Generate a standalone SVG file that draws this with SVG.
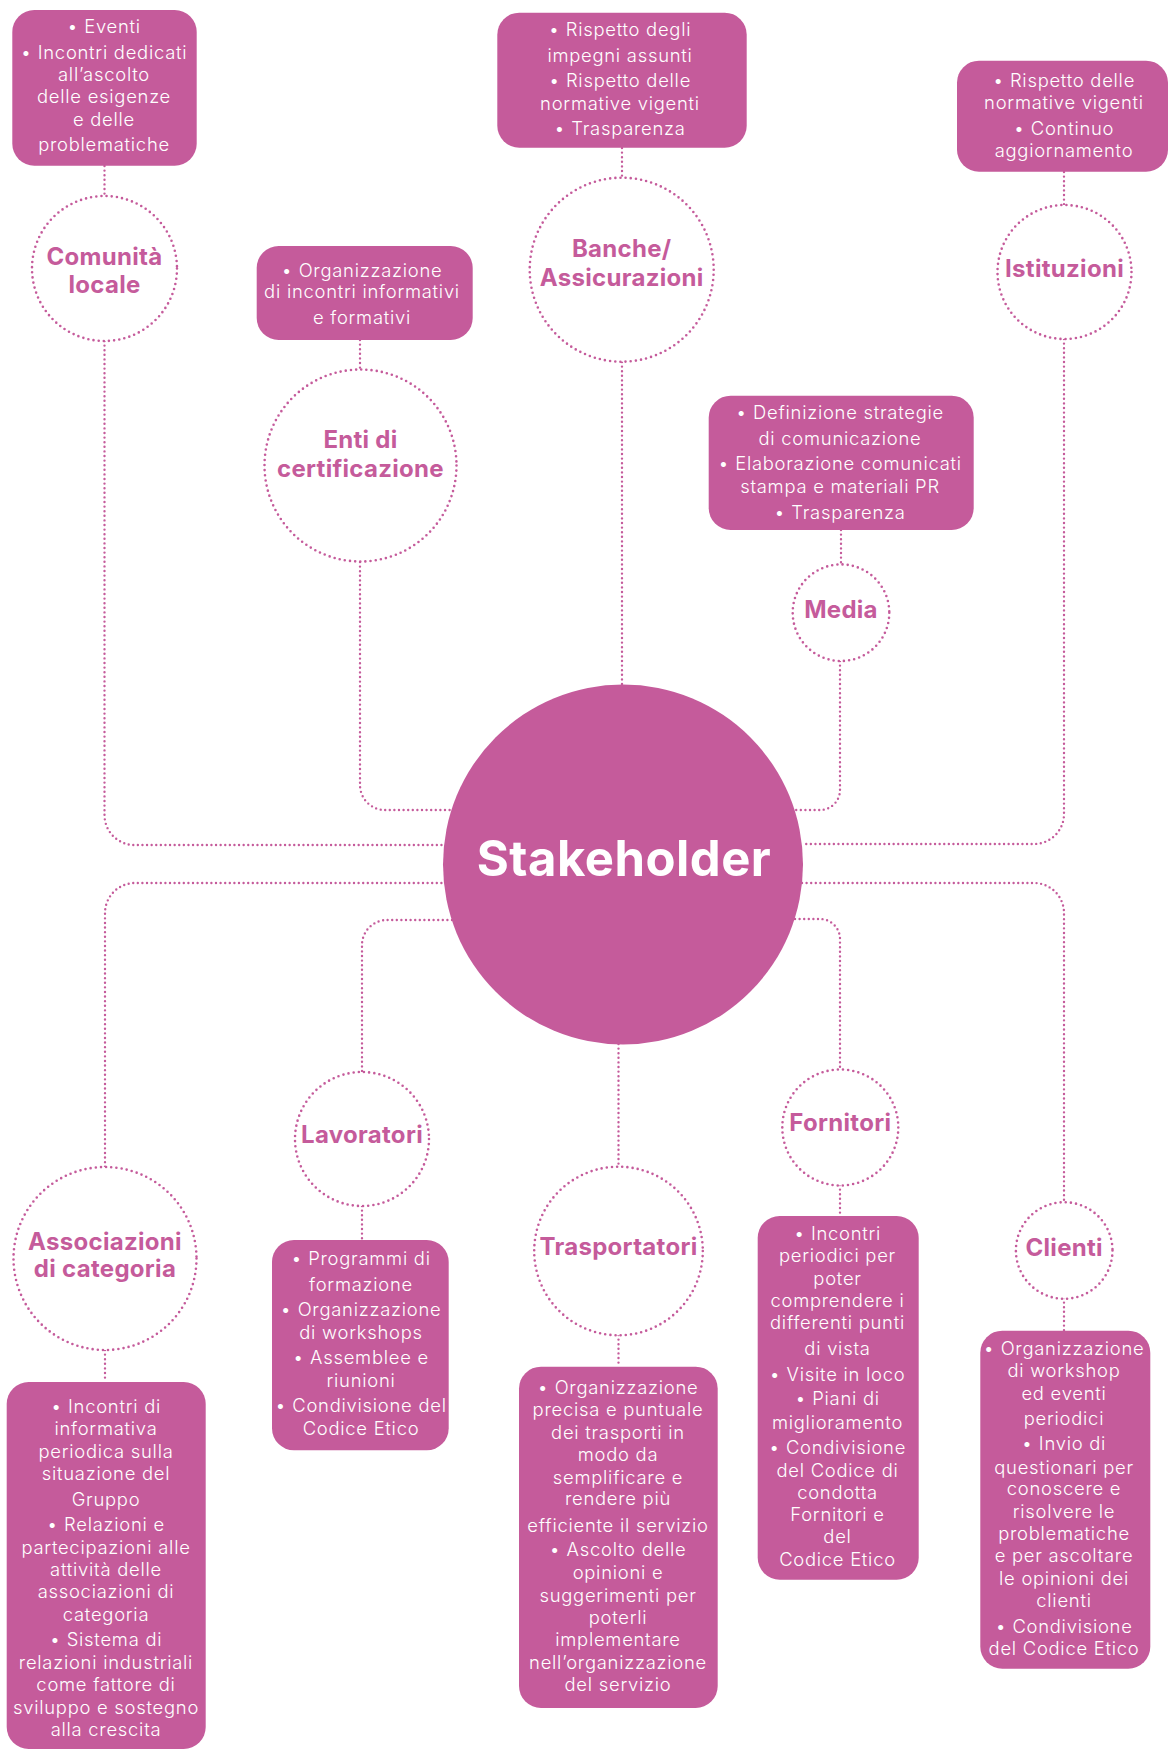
<svg xmlns="http://www.w3.org/2000/svg" width="1169" height="1750" viewBox="0 0 1169 1750">
<style>
.box{fill:#C55B9B}
.bt{font-family:Inter,'Open Sans','DejaVu Sans',sans-serif;font-size:18.4px;font-weight:300;fill:#fff;text-anchor:middle;letter-spacing:0.75px}
.node{fill:#fff;stroke:#C55B9B;stroke-width:2.6;stroke-dasharray:0 5.2;stroke-linecap:round}
.lbl{font-family:Inter,'Open Sans','DejaVu Sans',sans-serif;font-size:24px;font-weight:700;fill:#C55B9B;text-anchor:middle;letter-spacing:0.3px}
.conn{fill:none;stroke:#C55B9B;stroke-width:2.4;stroke-dasharray:0 4.6;stroke-linecap:round}
.hub{fill:#C55B9B}
.hubt{font-family:Inter,'Open Sans','DejaVu Sans',sans-serif;font-size:49px;font-weight:700;fill:#fff;text-anchor:middle;letter-spacing:0.5px}
</style>
<rect width="1169" height="1750" fill="#fff"/>
<g id="connectors">
<path class="conn" d="M104.5 166 V196"/>
<path class="conn" d="M104.5 341 V815 A30 30 0 0 0 134.5 845 H446"/>
<path class="conn" d="M360 340 V369"/>
<path class="conn" d="M360 562 V785 A25 25 0 0 0 385 810 H453"/>
<path class="conn" d="M622 148 V178"/>
<path class="conn" d="M622 362 V685"/>
<path class="conn" d="M1064 172 V205"/>
<path class="conn" d="M1064 339 V814 A30 30 0 0 1 1034 844 H802"/>
<path class="conn" d="M841 530 V564"/>
<path class="conn" d="M840 661 V790 A20 20 0 0 1 820 810 H795"/>
<path class="conn" d="M446 883 H135 A30 30 0 0 0 105 913 V1167"/>
<path class="conn" d="M105 1350 V1382"/>
<path class="conn" d="M452 920 H387 A25 25 0 0 0 362 945 V1072"/>
<path class="conn" d="M362 1206 V1240"/>
<path class="conn" d="M618.5 1044 V1167"/>
<path class="conn" d="M618.5 1335 V1367"/>
<path class="conn" d="M795 919 H820 A20 20 0 0 1 840 939 V1070"/>
<path class="conn" d="M840 1185 V1216"/>
<path class="conn" d="M802 883 H1034 A30 30 0 0 1 1064 913 V1203"/>
<path class="conn" d="M1064 1298 V1331"/>
</g>
<g id="stakeholder">
<circle class="hub" cx="623" cy="864.5" r="180"/>
<text class="hubt" x="624" y="876">Stakeholder</text>
</g>
<g id="comunita-locale">
<rect class="box" x="12.3" y="10" width="184.4" height="155.7" rx="22"/>
<text class="bt" x="104"><tspan x="104" y="33.3">• Eventi</tspan><tspan x="104" y="59.3">• Incontri dedicati</tspan><tspan x="104" y="81">all’ascolto</tspan><tspan x="104" y="102.7">delle esigenze</tspan><tspan x="104" y="126">e delle</tspan><tspan x="104" y="151">problematiche</tspan></text>
<circle class="node" cx="104.5" cy="268.5" r="72.5"/>
<text class="lbl"><tspan x="104.5" y="265">Comunità</tspan><tspan x="104.5" y="293">locale</tspan></text>
</g>
<g id="enti-di-certificazione">
<rect class="box" x="256.7" y="246" width="216" height="94" rx="22"/>
<text class="bt"><tspan x="362" y="276.7">• Organizzazione</tspan><tspan x="362" y="297.7">di incontri informativi</tspan><tspan x="362" y="324">e formativi</tspan></text>
<circle class="node" cx="360.5" cy="465.5" r="96"/>
<text class="lbl"><tspan x="360.5" y="448.3">Enti di</tspan><tspan x="360.5" y="477.3">certificazione</tspan></text>
</g>
<g id="banche-assicurazioni">
<rect class="box" x="497.3" y="12.7" width="249.4" height="135" rx="22"/>
<text class="bt"><tspan x="620" y="36">• Rispetto degli</tspan><tspan x="620" y="62">impegni assunti</tspan><tspan x="620" y="87.3">• Rispetto delle</tspan><tspan x="620" y="110">normative vigenti</tspan><tspan x="620" y="135">• Trasparenza</tspan></text>
<circle class="node" cx="621.7" cy="269.7" r="92"/>
<text class="lbl"><tspan x="621.7" y="256.7">Banche/</tspan><tspan x="621.7" y="286">Assicurazioni</tspan></text>
</g>
<g id="istituzioni">
<rect class="box" x="957" y="60.7" width="211" height="111" rx="22"/>
<text class="bt"><tspan x="1064" y="87.3">• Rispetto delle</tspan><tspan x="1064" y="109.3">normative vigenti</tspan><tspan x="1064" y="135">• Continuo</tspan><tspan x="1064" y="156.7">aggiornamento</tspan></text>
<circle class="node" cx="1064.5" cy="272" r="67"/>
<text class="lbl" x="1064.5" y="276.7">Istituzioni</text>
</g>
<g id="media">
<rect class="box" x="708.7" y="395.7" width="265" height="134.3" rx="22"/>
<text class="bt"><tspan x="840" y="419.3">• Definizione strategie</tspan><tspan x="840" y="445">di comunicazione</tspan><tspan x="840" y="470">• Elaborazione comunicati</tspan><tspan x="840" y="493.3">stampa e materiali PR</tspan><tspan x="840" y="519">• Trasparenza</tspan></text>
<circle class="node" cx="841" cy="612.7" r="48.3"/>
<text class="lbl" x="841" y="618.3">Media</text>
</g>
<g id="associazioni-di-categoria">
<circle class="node" cx="105" cy="1258.5" r="91.5"/>
<text class="lbl"><tspan x="105" y="1250.4">Associazioni</tspan><tspan x="105" y="1277.2">di categoria</tspan></text>
<rect class="box" x="6.7" y="1382" width="199" height="367" rx="22"/>
<text class="bt"><tspan x="106" y="1413.2">• Incontri di</tspan><tspan x="106" y="1435.4">informativa</tspan><tspan x="106" y="1458.4">periodica sulla</tspan><tspan x="106" y="1480.3">situazione del</tspan><tspan x="106" y="1506.3">Gruppo</tspan><tspan x="106" y="1531.2">• Relazioni e</tspan><tspan x="106" y="1554.2">partecipazioni alle</tspan><tspan x="106" y="1576.4">attività delle</tspan><tspan x="106" y="1598.3">associazioni di</tspan><tspan x="106" y="1621.3">categoria</tspan><tspan x="106" y="1646.2">• Sistema di</tspan><tspan x="106" y="1669.2">relazioni industriali</tspan><tspan x="106" y="1691.4">come fattore di</tspan><tspan x="106" y="1714.4">sviluppo e sostegno</tspan><tspan x="106" y="1736.2">alla crescita</tspan></text>
</g>
<g id="lavoratori">
<circle class="node" cx="362" cy="1139" r="67"/>
<text class="lbl" x="362" y="1143.3">Lavoratori</text>
<rect class="box" x="272" y="1240" width="176.7" height="210.3" rx="22"/>
<text class="bt"><tspan x="361" y="1265">• Programmi di</tspan><tspan x="361" y="1290.7">formazione</tspan><tspan x="361" y="1316">• Organizzazione</tspan><tspan x="361" y="1338.7">di workshops</tspan><tspan x="361" y="1364">• Assemblee e</tspan><tspan x="361" y="1386.7">riunioni</tspan><tspan x="361" y="1411.7">• Condivisione del</tspan><tspan x="361" y="1434.5">Codice Etico</tspan></text>
</g>
<g id="trasportatori">
<circle class="node" cx="618.5" cy="1251" r="84.3"/>
<text class="lbl" x="618.5" y="1255">Trasportatori</text>
<rect class="box" x="519" y="1366.7" width="198.7" height="341.3" rx="22"/>
<text class="bt"><tspan x="618" y="1394">• Organizzazione</tspan><tspan x="618" y="1416">precisa e puntuale</tspan><tspan x="618" y="1438.7">dei trasporti in</tspan><tspan x="618" y="1461.3">modo da</tspan><tspan x="618" y="1484">semplificare e</tspan><tspan x="618" y="1505.3">rendere più</tspan><tspan x="618" y="1532">efficiente il servizio</tspan><tspan x="618" y="1556.3">• Ascolto delle</tspan><tspan x="618" y="1579">opinioni e</tspan><tspan x="618" y="1602">suggerimenti per</tspan><tspan x="618" y="1624">poterli</tspan><tspan x="618" y="1646.3">implementare</tspan><tspan x="618" y="1668.7">nell’organizzazione</tspan><tspan x="618" y="1691.3">del servizio</tspan></text>
</g>
<g id="fornitori">
<circle class="node" cx="840.3" cy="1127.5" r="58"/>
<text class="lbl" x="840.3" y="1131">Fornitori</text>
<rect class="box" x="757.7" y="1216" width="161" height="363.7" rx="22"/>
<text class="bt"><tspan x="837.5" y="1240">• Incontri</tspan><tspan x="837.5" y="1262">periodici per</tspan><tspan x="837.5" y="1284.7">poter</tspan><tspan x="837.5" y="1307">comprendere i</tspan><tspan x="837.5" y="1328.7">differenti punti</tspan><tspan x="837.5" y="1354.7">di vista</tspan><tspan x="837.5" y="1380.7">• Visite in loco</tspan><tspan x="837.5" y="1405.3">• Piani di</tspan><tspan x="837.5" y="1428.7">miglioramento</tspan><tspan x="837.5" y="1454">• Condivisione</tspan><tspan x="837.5" y="1476.7">del Codice di</tspan><tspan x="837.5" y="1498.7">condotta</tspan><tspan x="837.5" y="1521.3">Fornitori e</tspan><tspan x="837.5" y="1543.3">del</tspan><tspan x="837.5" y="1565.7">Codice Etico</tspan></text>
</g>
<g id="clienti">
<circle class="node" cx="1064.2" cy="1250.5" r="48.3"/>
<text class="lbl" x="1064.2" y="1256">Clienti</text>
<rect class="box" x="980.3" y="1330.7" width="170" height="338" rx="22"/>
<text class="bt"><tspan x="1064" y="1354.7">• Organizzazione</tspan><tspan x="1064" y="1377.3">di workshop</tspan><tspan x="1064" y="1399.7">ed eventi</tspan><tspan x="1064" y="1425.3">periodici</tspan><tspan x="1064" y="1450.3">• Invio di</tspan><tspan x="1064" y="1473.7">questionari per</tspan><tspan x="1064" y="1495.3">conoscere e</tspan><tspan x="1064" y="1518">risolvere le</tspan><tspan x="1064" y="1540.3">problematiche</tspan><tspan x="1064" y="1562.3">e per ascoltare</tspan><tspan x="1064" y="1585.3">le opinioni dei</tspan><tspan x="1064" y="1607.3">clienti</tspan><tspan x="1064" y="1633.3">• Condivisione</tspan><tspan x="1064" y="1655.3">del Codice Etico</tspan></text>
</g>
</svg>
